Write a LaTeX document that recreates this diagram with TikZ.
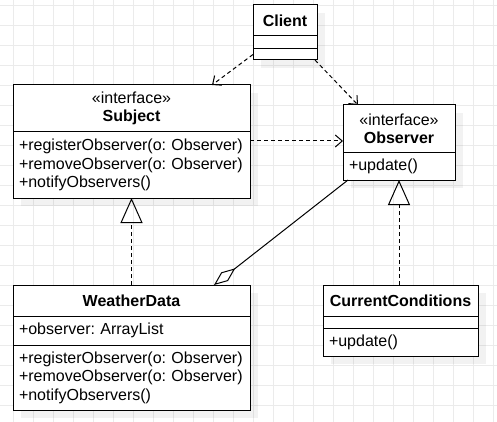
\documentclass[tikz,border=0pt]{standalone}
\usepackage{fontspec}
\setmainfont{Liberation Sans}
\usetikzlibrary{positioning, arrows.meta, shadows}

\newcommand{\umlfont}{\fontsize{16}{18.5}\selectfont\frenchspacing}

\begin{document}
\begin{tikzpicture}[
    x=1pt, y=-1pt,
    gridline/.style = {draw=black!8, line width=0.8pt},
    part/.style     = {rectangle, draw=black, line width=1pt, fill=white, outer sep=0pt,
                       inner xsep=6pt, inner ysep=0pt, font=\umlfont,
                       drop shadow={shadow xshift=8pt, shadow yshift=-8pt, fill=black, opacity=0.05}},
    head/.style     = {part, align=center, font=\umlfont\bfseries},
    ops/.style      = {part, align=left},
    dep/.style      = {line width=1pt, dash pattern=on 4pt off 3pt, -{Straight Barb[length=7pt, width=12pt]}},
    realize/.style  = {line width=1pt, dash pattern=on 4pt off 3pt, -{Triangle[open, length=25pt, width=22pt]}},
    aggr/.style     = {line width=1pt, {Diamond[open, length=27pt, width=11pt]}-},
]

% background and grid
\fill[white] (0,0) rectangle (497,422);
\useasboundingbox (0,0) rectangle (497,422);
\foreach \x in {13,33,...,493} \draw[gridline] (\x,0) -- (\x,422);
\foreach \y in {5,25,...,405} \draw[gridline] (0,\y) -- (497,\y);

% Client
\node[head, minimum width=64pt, minimum height=31pt, anchor=north west] (client) at (253,5) {Client};
\node[part, minimum width=64pt, minimum height=13pt, below=0pt of client] (client-a) {};
\node[part, minimum width=64pt, minimum height=11pt, below=0pt of client-a] (client-o) {};

% Subject
\node[head, minimum width=237pt, minimum height=47pt, anchor=north west] (subj) at (13,85)
    {{\mdseries «interface»}\\Subject};
\node[ops, text width=225pt, minimum height=66pt, below=0pt of subj] (subj-ops)
    {+registerObserver(o: Observer)\\+removeObserver(o: Observer)\\+notifyObservers()};

% Observer
\node[head, minimum width=112pt, minimum height=48pt, anchor=north west] (obs) at (343,105)
    {{\mdseries «interface»}\\Observer};
\node[ops, text width=100pt, minimum height=27pt, below=0pt of obs] (obs-ops) {+update()};

% WeatherData
\node[head, minimum width=237pt, minimum height=31pt, anchor=north west] (wd) at (13,285) {WeatherData};
\node[ops, text width=225pt, minimum height=29pt, below=0pt of wd] (wd-attr) {+observer: ArrayList};
\node[ops, text width=225pt, minimum height=65pt, below=0pt of wd-attr] (wd-ops)
    {+registerObserver(o: Observer)\\+removeObserver(o: Observer)\\+notifyObservers()};

% CurrentConditions
\node[head, minimum width=155pt, minimum height=31pt, anchor=north west] (cc) at (323,285) {CurrentConditions};
\node[part, minimum width=155pt, minimum height=12pt, below=0pt of cc] (cc-attr) {};
\node[ops, text width=143pt, minimum height=28pt, below=0pt of cc-attr] (cc-ops) {+update()};

% dependencies
\coordinate (s2o) at ([yshift=-9pt]subj-ops.north east);
\draw[dep] (client-o.west) -- ([xshift=-38pt]subj.north east);
\draw[dep] ([xshift=-2pt]client-o.south east) -- ([xshift=15pt]obs.north west);
\draw[dep] (s2o) -- (s2o -| obs.west);

% realizations
\draw[realize] (wd.north) -- (subj-ops.south);
\draw[realize] (cc.north -| obs-ops.south) -- (obs-ops.south);

% aggregation
\draw[aggr] ([xshift=-36pt]wd.north east) -- ([xshift=5pt]obs-ops.south west);

\end{tikzpicture}
\end{document}
